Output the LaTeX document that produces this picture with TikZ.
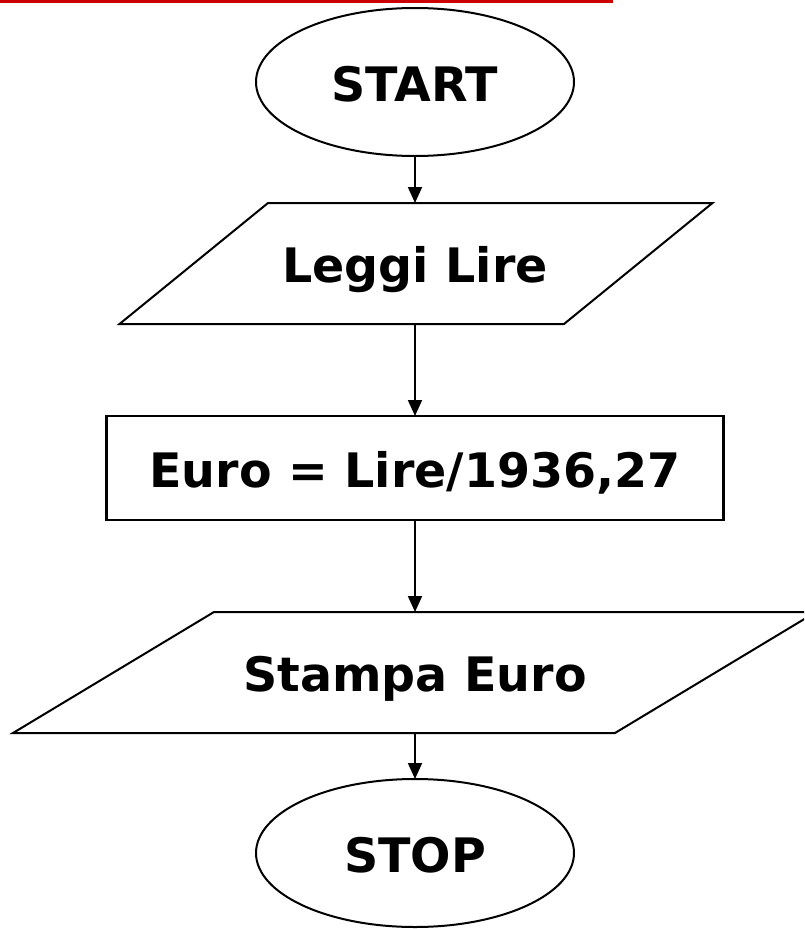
\documentclass[tikz,border=0pt]{standalone}
\usepackage{fontspec}
\setmainfont{DejaVu Sans}
\usetikzlibrary{shapes.geometric,arrows.meta}
\definecolor{topred}{RGB}{204,0,0}
\tikzset{
  lbl/.style={font=\fontsize{47.5}{57}\selectfont\bfseries, inner sep=0pt, outer sep=0pt, text height=38.6pt, text depth=0pt},
  term/.style={lbl, draw, line width=2pt, ellipse, minimum width=318pt, minimum height=148pt},
  procbox/.style={lbl, draw, line width=2.2pt, rectangle, minimum width=617pt, minimum height=104pt},
  io/.style={draw, line width=2pt, line join=miter},
  arr/.style={line width=1.8pt, -{Triangle[length=16pt,width=14pt]}}
}
\begin{document}
\begin{tikzpicture}[x=1pt,y=-1pt]
\useasboundingbox (0,0) rectangle (804,929);
\clip (0,0) rectangle (804,929);
\fill[topred] (0,0) rectangle (613,3);
% START
\node[term] (start) at (415,82) {START};
% Leggi Lire
\draw[io] (268,203) -- (712.5,203) -- (564,324) -- (119.5,324) -- cycle;
\node[lbl] (leggi) at (415,263.5) {Leggi Lire};
\coordinate (leggiT) at (415,203);
\coordinate (leggiB) at (415,324);
% Euro = ...
\node[procbox] (calc) at (415,468) {Euro = Lire/1936,27};
% Stampa Euro
\draw[io] (214,612) -- (816,612) -- (615,733) -- (13,733) -- cycle;
\node[lbl] (stampa) at (415,672.5) {Stampa Euro};
\coordinate (stampaT) at (415,612);
\coordinate (stampaB) at (415,733);
% STOP
\node[term] (stop) at (415,853) {STOP};
% connectors
\draw[arr] (start) -- (leggiT);
\draw[arr] (leggiB) -- (calc);
\draw[arr] (calc) -- (stampaT);
\draw[arr] (stampaB) -- (stop);
\end{tikzpicture}
\end{document}
